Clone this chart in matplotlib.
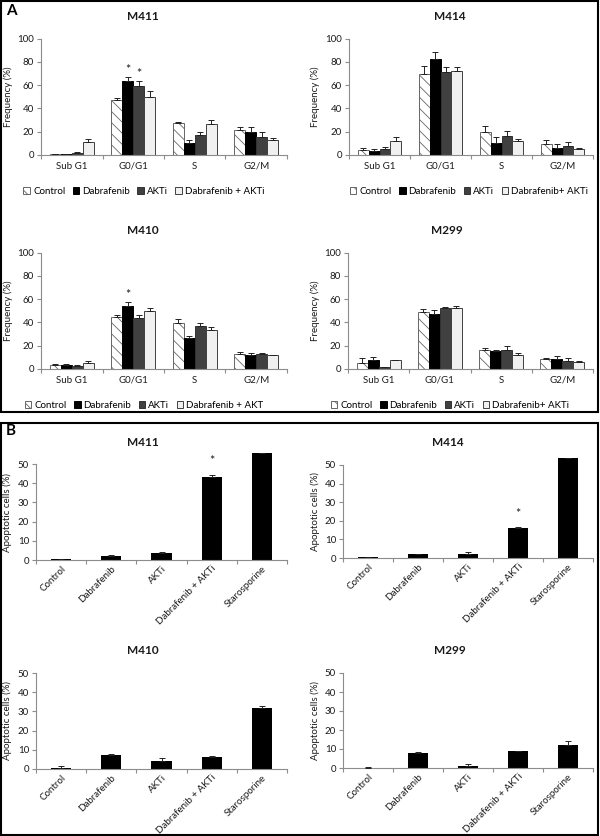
import matplotlib
matplotlib.use("Agg")
import matplotlib.pyplot as plt
import numpy as np
from matplotlib.patches import Rectangle

plt.rcParams['font.family'] = ['Lato', 'DejaVu Sans']
plt.rcParams['hatch.linewidth'] = 0.6

# ---- data: panel A, cell cycle frequency (%) ----
phases = ['Sub G1', 'G0/G1', 'S', 'G2/M']
treatments = ['Control', 'Dabrafenib', 'AKTi', 'Dabrafenib + AKTi']

# rows: Control, Dabrafenib, AKTi, Dabrafenib + AKTi ; columns: phases
m411_freq = [[0.5, 47.0, 27.5, 21.5],
             [0.8, 63.6, 10.3, 19.5],
             [1.8, 59.0, 17.2, 15.5],
             [11.5, 49.9, 26.6, 13.2]]
m411_err = [[0.2, 1.7, 1.1, 2.3],
            [0.2, 3.7, 2.6, 4.3],
            [0.5, 4.6, 2.3, 4.0],
            [2.0, 4.9, 3.4, 1.7]]

m414_freq = [[4.3, 70.0, 19.5, 9.5],
             [3.7, 82.2, 10.0, 6.3],
             [5.2, 71.0, 16.3, 8.0],
             [12.0, 72.5, 12.0, 5.2]]
m414_err = [[1.5, 6.3, 5.2, 3.2],
            [1.7, 6.0, 5.7, 2.9],
            [1.4, 4.6, 4.6, 3.4],
            [3.4, 3.2, 2.0, 0.9]]

m410_freq = [[3.1, 44.6, 39.4, 13.1],
             [3.7, 54.3, 26.3, 12.0],
             [2.9, 43.7, 37.4, 12.6],
             [5.1, 49.7, 33.7, 11.7]]
m410_err = [[1.1, 1.7, 3.4, 1.1],
            [0.9, 3.1, 1.7, 2.0],
            [0.9, 3.1, 2.0, 1.4],
            [1.4, 2.9, 2.6, 0.3]]

m299_freq = [[5.1, 48.9, 16.3, 8.6],
             [7.4, 46.9, 15.4, 8.9],
             [1.4, 52.3, 16.6, 7.1],
             [7.4, 52.3, 12.0, 6.0]]
m299_err = [[4.3, 3.1, 2.0, 0.6],
            [2.6, 4.0, 0.9, 2.0],
            [0.3, 0.9, 3.4, 2.6],
            [0.5, 2.0, 2.0, 0.9]]

# ---- data: panel B, apoptotic cells (%) ----
drugs = ['Control', 'Dabrafenib', 'AKTi', 'Dabrafenib + AKTi', 'Starosporine']
m411_apo = [0.3, 2.3, 3.5, 43.4, 55.9]
m411_apo_err = [0.2, 0.3, 0.6, 1.0, 0.0]
m414_apo = [0.5, 2.1, 2.3, 15.9, 53.6]
m414_apo_err = [0.3, 0.3, 1.0, 0.9, 0.0]
m410_apo = [0.7, 7.1, 4.4, 6.1, 31.9]
m410_apo_err = [0.8, 0.9, 1.5, 0.7, 0.9]
m299_apo = [0.2, 8.1, 0.9, 8.8, 12.1]
m299_apo_err = [0.3, 0.3, 1.4, 0.3, 2.1]

W, H = 600, 836
fig = plt.figure(figsize=(W / 100, H / 100), dpi=100)

AXIS_COL = '#8c8c8c'
TXT = '#1a1a1a'
FS = 7


def px_axes(left, right, y0, ytop):
    return fig.add_axes([left / W, 1 - y0 / H, (right - left) / W, (y0 - ytop) / H])


def style_axes(ax, n):
    for s in ['top', 'right']:
        ax.spines[s].set_visible(False)
    for s in ['left', 'bottom']:
        ax.spines[s].set_color(AXIS_COL)
        ax.spines[s].set_linewidth(0.8)
    ax.set_xlim(-0.5, n - 0.5)
    ax.set_xticks(np.arange(n))
    ax.set_xticks(np.arange(n + 1) - 0.5, minor=True)
    ax.tick_params(axis='x', which='major', length=0, labelsize=FS, colors=TXT, pad=5)
    ax.tick_params(axis='x', which='minor', length=3, color=AXIS_COL, width=0.8)
    ax.tick_params(axis='y', length=3, color=AXIS_COL, width=0.8, labelsize=FS, labelcolor=TXT, pad=2)


styles = [dict(color='white', edgecolor='#666666', hatch='\\\\\\'),
          dict(color='black', edgecolor='black'),
          dict(color='#404040', edgecolor='#333333'),
          dict(color='#f0f0f0', edgecolor='#404040')]


def cycle_panel(box, freq, err, title, title_xy, ylab_x, legend_xy, labels, stars):
    left, right, y0, ytop = box
    ax = px_axes(left, right, y0, ytop)
    x = np.arange(len(phases))
    w = 0.18
    for i in range(4):
        pos = x + (i - 1.5) * w
        ax.bar(pos, freq[i], w, label=labels[i], linewidth=0.7, zorder=2, **styles[i])
        ax.errorbar(pos, freq[i], yerr=[np.zeros(4), err[i]], fmt='none',
                    ecolor='#222222', elinewidth=0.7, capsize=2, capthick=0.7, zorder=3)
    for (g, i) in stars:
        ax.text(g + (i - 1.5) * w, freq[i][g] + err[i][g] + 6, '*', ha='center',
                va='center', fontsize=9, color=TXT)
    ax.set_ylim(0, 100)
    ax.set_yticks([0, 20, 40, 60, 80, 100])
    ax.set_xticklabels(phases)
    style_axes(ax, len(phases))
    fig.text(title_xy[0] / W, 1 - title_xy[1] / H, title, ha='center', va='center',
             fontsize=8.5, fontweight='bold', color=TXT)
    fig.text(ylab_x / W, 1 - (y0 + ytop) / 2 / H, 'Frequency (%)', rotation=90,
             ha='center', va='center', fontsize=FS, color=TXT)
    ax.legend(loc='center', bbox_to_anchor=(legend_xy[0] / W, 1 - legend_xy[1] / H),
              bbox_transform=fig.transFigure, ncol=4, frameon=False, fontsize=FS,
              handlelength=0.7, handleheight=0.7, handletextpad=0.3,
              columnspacing=0.75, borderpad=0)


def apo_panel(box, vals, err, title, title_xy, ylab_x, star=None):
    left, right, y0, ytop = box
    ax = px_axes(left, right, y0, ytop)
    x = np.arange(len(drugs))
    ax.bar(x, vals, 0.4, color='black', zorder=2)
    ax.errorbar(x, vals, yerr=[np.zeros(len(vals)), err], fmt='none', ecolor='#222222',
                elinewidth=0.7, capsize=2, capthick=0.7, zorder=3)
    if star is not None:
        ax.text(star, vals[star] + err[star] + 7, '*', ha='center', va='center',
                fontsize=9, color=TXT)
    ax.set_ylim(0, 56)
    ax.set_yticks([0, 10, 20, 30, 40, 50])
    ax.spines['left'].set_bounds(0, 50)
    ax.set_xticklabels(drugs, rotation=45, ha='right', rotation_mode='anchor')
    style_axes(ax, len(drugs))
    ax.tick_params(axis='x', which='major', pad=3)
    fig.text(title_xy[0] / W, 1 - title_xy[1] / H, title, ha='center', va='center',
             fontsize=8.5, fontweight='bold', color=TXT)
    fig.text(ylab_x / W, 1 - (y0 - 50 * (y0 - ytop) / 56 / 2) / H, 'Apoptotic cells (%)',
             rotation=90, ha='center', va='center', fontsize=FS, color=TXT)


# panel A
cycle_panel((41, 287, 155, 38.7), m411_freq, m411_err, 'M411', (143, 17), 8, (144, 191),
            treatments, [(1, 1), (1, 2)])
cycle_panel((349, 593, 155, 38.7), m414_freq, m414_err, 'M414', (450, 17), 315, (469, 191),
            ['Control', 'Dabrafenib', 'AKTi', 'Dabrafenib+ AKTi'], [])
cycle_panel((41, 287, 369, 252.7), m410_freq, m410_err, 'M410', (143, 230), 8, (144, 405),
            ['Control', 'Dabrafenib', 'AKTi', 'Dabrafenib + AKT'], [(1, 1)])
cycle_panel((348, 593, 369, 252.7), m299_freq, m299_err, 'M299', (447, 230), 315, (450, 405),
            ['Control', 'Dabrafenib', 'AKTi', 'Dabrafenib+ AKTi'], [])

# panel B (56 units of y range shown, ticks to 50)
apo_panel((36, 287, 560, 560 - 56 * 1.92), m411_apo, m411_apo_err, 'M411', (143, 442), 7, star=3)
apo_panel((343, 593, 558, 558 - 56 * 1.86), m414_apo, m414_apo_err, 'M414', (448, 442), 315, star=3)
apo_panel((36, 287, 769, 769 - 56 * 1.92), m410_apo, m410_apo_err, 'M410', (143, 651), 7)
apo_panel((343, 593, 768, 768 - 56 * 1.9), m299_apo, m299_apo_err, 'M299', (450, 651), 315)

# panel frames and letters
for (y_top, y_bot) in [(1, 412), (423, 835)]:
    fig.patches.append(Rectangle((1 / W, 1 - y_bot / H), 597 / W, (y_bot - y_top) / H,
                                 transform=fig.transFigure, fill=False,
                                 edgecolor='black', linewidth=1.5))
fig.text(11 / W, 1 - 11 / H, 'A', ha='center', va='center', fontsize=11, fontweight='bold')
fig.text(11 / W, 1 - 431 / H, 'B', ha='center', va='center', fontsize=11, fontweight='bold')

fig.savefig('out.png', dpi=100)
